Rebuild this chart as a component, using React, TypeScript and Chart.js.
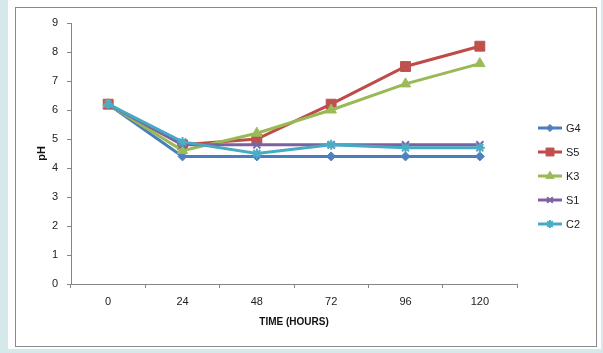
import React, { useEffect, useRef } from "react";
import { Chart, registerables } from "chart.js";
import { drawPoint } from "chart.js/helpers";

Chart.register(...registerables);

const categories = ["0", "24", "48", "72", "96", "120"];
const seriesNames = ["G4", "S5", "K3", "S1", "C2"];
const g4 = [6.2, 4.4, 4.4, 4.4, 4.4, 4.4];
const s5 = [6.2, 4.8, 5.0, 6.2, 7.5, 8.2];
const k3 = [6.2, 4.6, 5.2, 6.0, 6.9, 7.6];
const s1 = [6.2, 4.8, 4.8, 4.8, 4.8, 4.8];
const c2 = [6.2, 4.9, 4.5, 4.8, 4.7, 4.7];
const yTicks = [0, 1, 2, 3, 4, 5, 6, 7, 8, 9];

const FONT = "'Liberation Sans', Arial, sans-serif";
const lineColors = ["#4A7EBB", "#BE4B48", "#98B954", "#7D60A0", "#46AAC5"];
const markerColors = ["#4F81BD", "#C0504D", "#9BBB59", "#8064A2", "#4BACC6"];
const markerStyles = ["rectRot", "rect", "triangle", "crossRot", "star"];
const markerRadius = [4.5, 7, 6, 5, 5];

const legendPlugin = {
  id: "customLegend",
  afterDraw(chart: any) {
    const ctx = chart.ctx;
    ctx.save();
    chart.data.datasets.forEach((ds: any, i: number) => {
      const y = 128 + 24 * i;
      ctx.strokeStyle = lineColors[i];
      ctx.lineWidth = 3;
      ctx.beginPath();
      ctx.moveTo(538, y);
      ctx.lineTo(562, y);
      ctx.stroke();
      ctx.fillStyle = markerColors[i];
      ctx.strokeStyle = markerColors[i];
      ctx.lineWidth = markerStyles[i] === "crossRot" || markerStyles[i] === "star" ? 2 : 1;
      drawPoint(ctx, { pointStyle: markerStyles[i], radius: markerRadius[i] * 0.8, rotation: 0, borderWidth: 1 } as any, 550, y);
      ctx.fillStyle = "#222";
      ctx.font = `11px ${FONT}`;
      ctx.textBaseline = "middle";
      ctx.textAlign = "left";
      ctx.fillText(ds.label, 566, y + 1);
    });
    ctx.restore();
  },
};

export default function App() {
  const ref = useRef<HTMLCanvasElement>(null);
  useEffect(() => {
    const seriesData = [g4, s5, k3, s1, c2];
    const chart = new Chart(ref.current!, {
      type: "line",
      data: {
        labels: categories,
        datasets: seriesData.map((d, i) => ({
          label: seriesNames[i],
          data: d,
          borderColor: lineColors[i],
          backgroundColor: markerColors[i],
          borderWidth: 3,
          tension: 0,
          pointStyle: markerStyles[i] as any,
          pointRadius: markerRadius[i],
          pointBackgroundColor: markerColors[i],
          pointBorderColor: markerColors[i],
          pointBorderWidth: markerStyles[i] === "crossRot" || markerStyles[i] === "star" ? 2 : 1,
          order: 5 - i,
          fill: false,
        })),
      },
      options: {
        animation: false,
        responsive: false,
        maintainAspectRatio: false,
        events: [],
        layout: { padding: { top: 23, right: 86, bottom: 0, left: 0 } },
        plugins: {
          legend: { display: false },
          tooltip: { enabled: false },
        },
        scales: {
          x: {
            type: "category",
            offset: true,
            afterFit: (s: any) => {
              s.height = 69;
            },
            grid: {
              offset: true,
              drawOnChartArea: false,
              drawTicks: true,
              tickLength: 4,
              color: "#868686",
            },
            border: { color: "#868686", width: 1 },
            ticks: {
              color: "#222",
              font: { family: FONT, size: 11 },
              padding: 7,
              maxRotation: 0,
            },
            title: {
              display: true,
              text: "TIME (HOURS)",
              color: "#111",
              font: { family: FONT, size: 10, weight: "bold" },
              padding: { top: 4, bottom: 25 },
            },
          },
          y: {
            min: 0,
            max: 9,
            afterFit: (s: any) => {
              s.width = 71;
            },
            afterBuildTicks: (s: any) => {
              s.ticks = yTicks.map((v) => ({ value: v }));
            },
            grid: {
              drawOnChartArea: false,
              drawTicks: true,
              tickLength: 4,
              color: "#868686",
            },
            border: { color: "#868686", width: 1 },
            ticks: {
              color: "#222",
              font: { family: FONT, size: 11 },
              padding: 9,
            },
            title: {
              display: true,
              text: "pH",
              color: "#111",
              font: { family: FONT, size: 11, weight: "bold" },
              padding: { top: 35, bottom: 0 },
            },
          },
        },
      },
      plugins: [legendPlugin],
    });
    return () => chart.destroy();
  }, []);

  return (
    <div
      style={{
        position: "fixed",
        left: 0,
        top: 0,
        width: 603,
        height: 353,
        background: "#d5e8ea",
      }}
    >
      <div
        style={{
          position: "absolute",
          left: 8,
          top: 0,
          width: 593,
          height: 349,
          background: "#ffffff",
        }}
      />
      <div
        style={{
          position: "absolute",
          left: 15,
          top: 7,
          width: 580,
          height: 338,
          border: "1.5px solid #8a8a8a",
        }}
      />
      <canvas
        ref={ref}
        width={603}
        height={353}
        style={{ position: "absolute", left: 0, top: 0, width: 603, height: 353 }}
      />
    </div>
  );
}
